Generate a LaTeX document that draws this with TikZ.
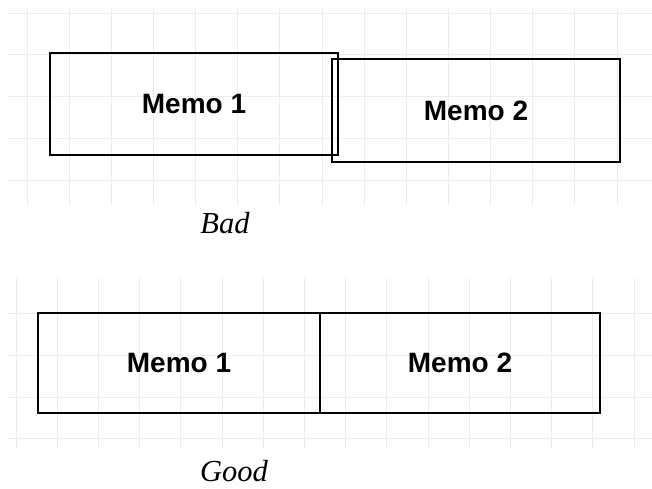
\documentclass[tikz,border=0pt]{standalone}
\usepackage{fontspec}
\setmainfont{Liberation Serif}
\newfontfamily\memofont{Liberation Sans}
\usepackage{tikz}
\definecolor{gridgray}{HTML}{EDEDED}
\tikzset{
  memo/.style={draw,line width=1.5pt,inner sep=0pt,font=\memofont\bfseries\fontsize{28}{32}\selectfont},
  caption/.style={inner sep=0pt,font=\itshape\fontsize{30.5}{35}\selectfont},
  gridline/.style={gridgray,line width=1pt}
}
\begin{document}
\begin{tikzpicture}[x=1pt,y=-1pt]
  \useasboundingbox (0,0) rectangle (652,488);
  % upper grid
  \foreach \gx in {0,...,14}
    \draw[gridline] (27+42.15*\gx,8) -- (27+42.15*\gx,205);
  \foreach \gy in {13,54.5,96,138,180}
    \draw[gridline] (7,\gy) -- (652,\gy);
  % lower grid
  \foreach \gx in {0,...,15}
    \draw[gridline] (16+41.2*\gx,278) -- (16+41.2*\gx,448);
  \foreach \gy in {313,355,397,438}
    \draw[gridline] (7,\gy) -- (652,\gy);

  \node[memo,minimum width=288pt,minimum height=102pt] (bad1) at (194,104) {Memo 1};
  \node[memo,minimum width=288pt,minimum height=103pt] (bad2) at (476,110.5) {Memo 2};
  \node[caption,anchor=base] (badlbl) at (225,233) {Bad};

  \node[memo,minimum width=282pt,minimum height=100pt] (good1) at (179,363) {Memo 1};
  \node[memo,minimum width=280pt,minimum height=100pt] (good2) at (460,363) {Memo 2};
  \node[caption,anchor=base] (goodlbl) at (234,481.5) {Good};
\end{tikzpicture}
\end{document}
